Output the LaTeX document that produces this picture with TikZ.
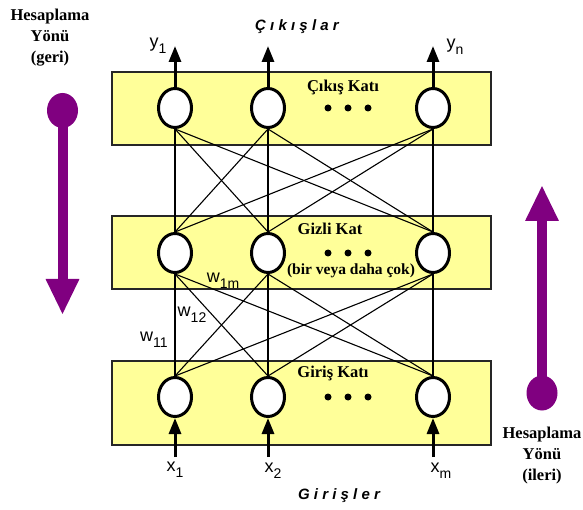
\documentclass[tikz,border=0pt]{standalone}
\usepackage{fontspec}
\setmainfont{Liberation Serif}
\setsansfont{Liberation Sans}
\newfontfamily\spacedsf[LetterSpace=28]{Liberation Sans}
\usetikzlibrary{arrows.meta, shapes.geometric}
\definecolor{layerYellow}{RGB}{255,255,153}
\definecolor{dirPurple}{RGB}{128,0,128}
\newcommand{\sublbl}[2]{#1\raisebox{-0.6ex}{\fontsize{14}{14}\selectfont #2}}

\begin{document}
\begin{tikzpicture}[x=1pt, y=-1pt,
  layer/.style={draw=black!85, line width=1.2pt, fill=layerYellow},
  neuron/.style={draw, ellipse, line width=3pt, fill=white,
    minimum width=33pt, minimum height=39pt, inner sep=0pt},
  link/.style={line width=1.1pt},
  io/.style={line width=3pt, -{Triangle[length=16pt, width=12pt]}},
  dot/.style={circle, fill, inner sep=0pt, minimum size=7pt},
  lyr/.style={font=\bfseries\fontsize{16.5}{16.5}\selectfont, inner sep=0pt},
  dir/.style={font=\bfseries\fontsize{16.5}{21}\selectfont, align=center},
  var/.style={font=\sffamily\fontsize{18}{18}\selectfont, inner sep=0pt},
  flow/.style={font=\spacedsf\bfseries\itshape\fontsize{15}{15}\selectfont},
  bigarrow/.style={dirPurple, line width=10pt, -{Triangle[length=36pt, width=31pt]}},
  bighead/.style={dirPurple, fill, ellipse, inner sep=0pt,
    minimum width=31pt, minimum height=35pt},
]
  \useasboundingbox (0,0) rectangle (583,510);

  % layers
  \draw[layer] (112,72) rectangle (491,145);
  \draw[layer] (112,216) rectangle (491,289);
  \draw[layer] (112,361) rectangle (491,445);

  % neurons
  \node[neuron] (o1) at (175,108) {};
  \node[neuron] (o2) at (268,108) {};
  \node[neuron] (o3) at (433,108) {};
  \node[neuron] (h1) at (175,253) {};
  \node[neuron] (h2) at (268,253) {};
  \node[neuron] (h3) at (433,253) {};
  \node[neuron] (i1) at (175,397) {};
  \node[neuron] (i2) at (268,397) {};
  \node[neuron] (i3) at (433,397) {};

  \foreach \a in {1,2,3}
    \foreach \b in {1,2,3} {
      \draw[link] (o\a.south) -- (h\b.north);
      \draw[link] (h\a.south) -- (i\b.north);
    }

  \foreach \y/\l in {108/od, 253/hd, 397/id} {
    \node[dot] (\l1) at (328,\y) {};
    \node[dot] (\l2) at (348,\y) {};
    \node[dot] (\l3) at (368,\y) {};
  }

  % outputs and inputs
  \coordinate (out1) at (175,46);
  \coordinate (out2) at (268,46);
  \coordinate (out3) at (433,46);
  \coordinate (in1) at (175,457);
  \coordinate (in2) at (268,457);
  \coordinate (in3) at (433,457);
  \draw[io] (o1) -- (out1);
  \draw[io] (o2) -- (out2);
  \draw[io] (o3) -- (out3);
  \draw[io] (in1) -- (i1);
  \draw[io] (in2) -- (i2);
  \draw[io] (in3) -- (i3);

  \node[var] (ly1) at (158,46) {\sublbl{y}{1}};
  \node[var] (lyn) at (455,47) {\sublbl{y}{n}};
  \node[var] (lx1) at (175,470) {\sublbl{x}{1}};
  \node[var] (lx2) at (273,471) {\sublbl{x}{2}};
  \node[var] (lxm) at (441,471) {\sublbl{x}{m}};
  \node[var] (w11) at (154,340) {\sublbl{w}{11}};
  \node[var] (w12) at (192,315) {\sublbl{w}{12}};
  \node[var] (w1m) at (223,281) {\sublbl{w}{1m}};

  \node[lyr] (lo) at (343,87) {Çıkış Katı};
  \node[lyr] (lh) at (330,229) {Gizli Kat};
  \node[lyr, font=\bfseries\fontsize{15.5}{15.5}\selectfont] (lh2) at (351,271) {(bir veya daha çok)};
  \node[lyr] (li) at (333,373) {Giriş Katı};

  \node[flow] (fout) at (297,27) {Çıkışlar};
  \node[flow] (fin) at (339,496) {Girişler};

  % direction arrows
  \node[dir] (tgeri) at (50,38) {Hesaplama\\Yönü\\(geri)};
  \node[bighead] (gstart) at (62.5,110.5) {};
  \coordinate (gend) at (62.5,315);
  \draw[bigarrow] (gstart.center) -- (gend);

  \node[dir] (tileri) at (542,456) {Hesaplama\\Yönü\\(ileri)};
  \node[bighead] (istart) at (542,393) {};
  \coordinate (iend) at (542,185);
  \draw[bigarrow] (istart.center) -- (iend);
\end{tikzpicture}
\end{document}
